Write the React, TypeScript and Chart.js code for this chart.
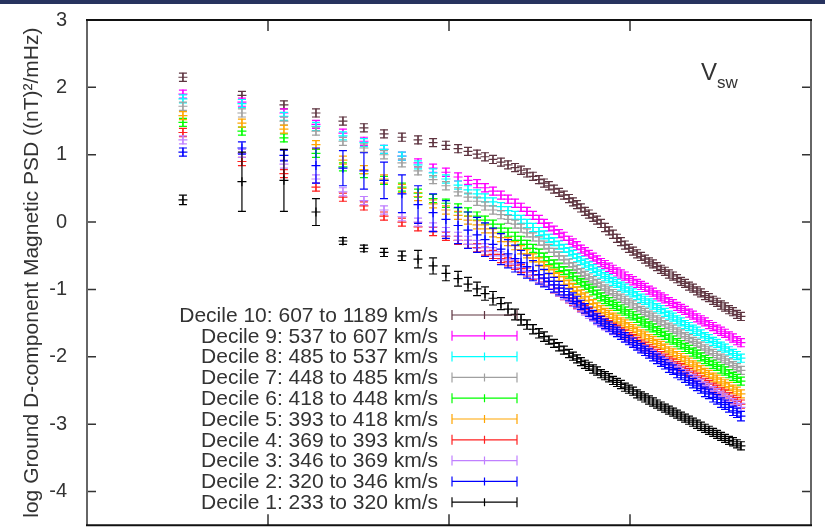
import React, { useEffect, useRef } from 'react';
import { Chart, registerables } from 'chart.js';
Chart.register(...registerables);

// log10 of frequency for every spectral bin
const logFreq = [
  -0.470, -0.144, 0.088, 0.265, 0.414, 0.530, 0.641, 0.740, 0.829, 0.912,
  0.983, 1.050, 1.105, 1.155, 1.199, 1.243, 1.287, 1.326, 1.365, 1.398,
  1.431, 1.464, 1.497, 1.525, 1.552, 1.580, 1.608, 1.635, 1.663, 1.685,
  1.707, 1.729, 1.751, 1.773, 1.796, 1.818, 1.840, 1.862, 1.884, 1.906,
  1.928, 1.950, 1.972, 1.994, 2.017, 2.039, 2.061, 2.083, 2.105, 2.127,
  2.149, 2.171, 2.193, 2.215, 2.238, 2.260, 2.282, 2.304, 2.326, 2.348,
  2.370, 2.392, 2.414, 2.436, 2.459, 2.481, 2.503, 2.525, 2.547, 2.569,
  2.591, 2.613,
];

const decile10 = [
  2.15, 1.88, 1.74, 1.62, 1.50, 1.40, 1.31, 1.26, 1.22, 1.18,
  1.14, 1.09, 1.05, 1.01, 0.97, 0.93, 0.89, 0.85, 0.81, 0.77,
  0.73, 0.68, 0.63, 0.58, 0.54, 0.49, 0.44, 0.40, 0.35, 0.30,
  0.26, 0.21, 0.16, 0.12, 0.07, 0.03, -0.02, -0.08, -0.13, -0.18,
  -0.24, -0.29, -0.34, -0.39, -0.43, -0.47, -0.51, -0.55, -0.59, -0.62,
  -0.66, -0.70, -0.73, -0.77, -0.80, -0.84, -0.88, -0.91, -0.95, -0.98,
  -1.02, -1.05, -1.09, -1.12, -1.16, -1.19, -1.23, -1.26, -1.30, -1.33,
  -1.37, -1.40,
];
const decile9 = [
  1.90, 1.78, 1.62, 1.45, 1.32, 1.20, 1.08, 0.98, 0.88, 0.80,
  0.74, 0.67, 0.62, 0.57, 0.51, 0.46, 0.40, 0.34, 0.28, 0.22,
  0.16, 0.10, 0.04, -0.02, -0.07, -0.12, -0.17, -0.21, -0.27, -0.31,
  -0.35, -0.40, -0.44, -0.48, -0.52, -0.56, -0.60, -0.63, -0.67, -0.70,
  -0.74, -0.77, -0.80, -0.84, -0.87, -0.91, -0.94, -0.97, -1.01, -1.04,
  -1.08, -1.11, -1.14, -1.18, -1.21, -1.25, -1.28, -1.31, -1.35, -1.38,
  -1.42, -1.45, -1.48, -1.52, -1.55, -1.59, -1.62, -1.65, -1.69, -1.72,
  -1.76, -1.79,
];
const decile8 = [
  1.83, 1.76, 1.57, 1.42, 1.28, 1.18, 1.08, 0.98, 0.85, 0.73,
  0.64, 0.55, 0.48, 0.42, 0.36, 0.30, 0.23, 0.17, 0.10, 0.04,
  -0.02, -0.08, -0.14, -0.19, -0.24, -0.29, -0.34, -0.39, -0.44, -0.48,
  -0.53, -0.57, -0.61, -0.65, -0.69, -0.73, -0.77, -0.81, -0.84, -0.88,
  -0.91, -0.95, -0.98, -1.02, -1.05, -1.09, -1.13, -1.16, -1.20, -1.23,
  -1.27, -1.30, -1.34, -1.38, -1.41, -1.45, -1.48, -1.52, -1.55, -1.59,
  -1.62, -1.66, -1.70, -1.73, -1.77, -1.80, -1.84, -1.87, -1.91, -1.95,
  -1.98, -2.02,
];
const decile7 = [
  1.72, 1.62, 1.50, 1.35, 1.20, 1.10, 1.00, 0.88, 0.76, 0.63,
  0.54, 0.45, 0.37, 0.31, 0.24, 0.18, 0.11, 0.04, -0.03, -0.09,
  -0.16, -0.22, -0.28, -0.34, -0.39, -0.45, -0.50, -0.56, -0.61, -0.66,
  -0.70, -0.75, -0.79, -0.83, -0.87, -0.91, -0.95, -0.99, -1.02, -1.06,
  -1.09, -1.13, -1.16, -1.20, -1.23, -1.27, -1.31, -1.34, -1.38, -1.41,
  -1.45, -1.48, -1.52, -1.56, -1.59, -1.63, -1.66, -1.70, -1.73, -1.77,
  -1.80, -1.84, -1.88, -1.91, -1.95, -1.98, -2.02, -2.05, -2.09, -2.13,
  -2.16, -2.20,
];
const decile6 = [
  1.48, 1.35, 1.25, 1.02, 0.82, 0.72, 0.62, 0.52, 0.43, 0.35,
  0.28, 0.21, 0.15, 0.09, 0.03, -0.03, -0.09, -0.15, -0.21, -0.27,
  -0.33, -0.39, -0.46, -0.52, -0.57, -0.62, -0.67, -0.72, -0.77, -0.81,
  -0.86, -0.90, -0.94, -0.98, -1.02, -1.07, -1.11, -1.15, -1.18, -1.22,
  -1.25, -1.29, -1.32, -1.36, -1.39, -1.43, -1.47, -1.50, -1.54, -1.57,
  -1.61, -1.64, -1.68, -1.72, -1.75, -1.79, -1.82, -1.86, -1.89, -1.93,
  -1.96, -2.00, -2.04, -2.07, -2.11, -2.14, -2.18, -2.21, -2.25, -2.29,
  -2.32, -2.36,
];
const decile5 = [
  1.58, 1.47, 1.38, 1.15, 0.92, 0.78, 0.64, 0.50, 0.38, 0.27,
  0.18, 0.10, 0.03, -0.04, -0.10, -0.16, -0.23, -0.29, -0.35, -0.41,
  -0.47, -0.53, -0.59, -0.65, -0.71, -0.76, -0.81, -0.87, -0.92, -0.97,
  -1.02, -1.07, -1.11, -1.16, -1.21, -1.26, -1.30, -1.34, -1.37, -1.41,
  -1.44, -1.48, -1.51, -1.55, -1.58, -1.62, -1.66, -1.69, -1.73, -1.76,
  -1.80, -1.83, -1.87, -1.91, -1.94, -1.98, -2.01, -2.05, -2.08, -2.12,
  -2.15, -2.19, -2.23, -2.26, -2.30, -2.33, -2.37, -2.40, -2.44, -2.48,
  -2.51, -2.55,
];
const decile4 = [
  1.33, 0.90, 0.72, 0.52, 0.37, 0.24, 0.09, 0.00, -0.07, -0.14,
  -0.21, -0.27, -0.33, -0.38, -0.43, -0.48, -0.54, -0.59, -0.64, -0.69,
  -0.74, -0.79, -0.84, -0.89, -0.94, -0.99, -1.04, -1.09, -1.14, -1.18,
  -1.22, -1.26, -1.30, -1.34, -1.38, -1.41, -1.45, -1.49, -1.52, -1.56,
  -1.59, -1.63, -1.66, -1.70, -1.73, -1.77, -1.81, -1.84, -1.88, -1.91,
  -1.95, -1.98, -2.02, -2.06, -2.09, -2.13, -2.16, -2.20, -2.23, -2.27,
  -2.30, -2.34, -2.38, -2.41, -2.45, -2.48, -2.52, -2.55, -2.59, -2.63,
  -2.66, -2.70,
];
const decile3 = [
  1.22, 1.02, 0.86, 0.64, 0.45, 0.32, 0.18, 0.08, 0.00, -0.07,
  -0.14, -0.21, -0.27, -0.33, -0.38, -0.44, -0.50, -0.56, -0.62, -0.67,
  -0.73, -0.78, -0.84, -0.89, -0.94, -0.99, -1.04, -1.09, -1.14, -1.19,
  -1.23, -1.28, -1.32, -1.37, -1.41, -1.46, -1.50, -1.54, -1.57, -1.61,
  -1.64, -1.68, -1.71, -1.75, -1.78, -1.82, -1.86, -1.89, -1.93, -1.96,
  -2.00, -2.03, -2.07, -2.11, -2.14, -2.18, -2.21, -2.25, -2.28, -2.32,
  -2.35, -2.39, -2.43, -2.46, -2.50, -2.53, -2.57, -2.60, -2.64, -2.68,
  -2.71, -2.75,
];
const decile2 = [
  1.04, 1.10, 0.99, 0.84, 0.80, 0.76, 0.62, 0.42, 0.26, 0.14,
  0.04, -0.05, -0.12, -0.19, -0.26, -0.33, -0.40, -0.47, -0.54, -0.60,
  -0.66, -0.72, -0.78, -0.83, -0.88, -0.93, -0.98, -1.03, -1.08, -1.13,
  -1.18, -1.23, -1.28, -1.33, -1.38, -1.43, -1.47, -1.51, -1.55, -1.59,
  -1.63, -1.67, -1.71, -1.75, -1.79, -1.83, -1.87, -1.91, -1.95, -1.99,
  -2.03, -2.07, -2.11, -2.16, -2.19, -2.24, -2.27, -2.31, -2.35, -2.39,
  -2.43, -2.47, -2.52, -2.55, -2.60, -2.63, -2.68, -2.71, -2.75, -2.80,
  -2.83, -2.88,
];
const decile1 = [
  0.33, 0.60, 0.62, 0.15, -0.28, -0.39, -0.45, -0.50, -0.55, -0.65,
  -0.76, -0.84, -0.92, -0.99, -1.06, -1.13, -1.21, -1.29, -1.37, -1.45,
  -1.52, -1.59, -1.65, -1.70, -1.75, -1.80, -1.85, -1.90, -1.95, -1.99,
  -2.03, -2.07, -2.11, -2.14, -2.18, -2.21, -2.25, -2.28, -2.31, -2.35,
  -2.38, -2.41, -2.45, -2.48, -2.51, -2.55, -2.58, -2.61, -2.64, -2.67,
  -2.70, -2.73, -2.76, -2.79, -2.82, -2.85, -2.88, -2.91, -2.94, -2.97,
  -3.00, -3.03, -3.06, -3.09, -3.12, -3.15, -3.18, -3.21, -3.24, -3.26,
  -3.29, -3.32,
];

// error bar half-lengths
const errDecile2 = [
  0.06, 0.09, 0.08, 0.26, 0.26, 0.27, 0.27, 0.28, 0.28, 0.28,
  0.28, 0.27, 0.27, 0.26, 0.25, 0.24, 0.23, 0.21, 0.20, 0.18,
  0.17, 0.15, 0.14, 0.13, 0.12, 0.11, 0.10, 0.09, 0.09, 0.08,
  0.08, 0.07, 0.07, 0.07, 0.07, 0.07, 0.07, 0.07, 0.07, 0.07,
  0.07, 0.07, 0.07, 0.07, 0.07, 0.07, 0.07, 0.07, 0.07, 0.07,
  0.07, 0.07, 0.07, 0.07, 0.07, 0.07, 0.07, 0.07, 0.07, 0.07,
  0.07, 0.07, 0.07, 0.07, 0.07, 0.07, 0.07, 0.07, 0.07, 0.07,
  0.07, 0.07,
];
const errDecile1 = [
  0.07, 0.44, 0.46, 0.20, 0.05, 0.05, 0.06, 0.07, 0.13, 0.12,
  0.11, 0.11, 0.10, 0.10, 0.10, 0.10, 0.09, 0.09, 0.08, 0.08,
  0.07, 0.07, 0.07, 0.07, 0.06, 0.06, 0.06, 0.06, 0.06, 0.06,
  0.06, 0.06, 0.06, 0.06, 0.06, 0.06, 0.06, 0.06, 0.06, 0.06,
  0.06, 0.06, 0.06, 0.06, 0.06, 0.06, 0.06, 0.06, 0.06, 0.06,
  0.06, 0.06, 0.06, 0.06, 0.06, 0.06, 0.06, 0.06, 0.06, 0.06,
  0.06, 0.06, 0.06, 0.06, 0.06, 0.06, 0.06, 0.06, 0.06, 0.06,
  0.06, 0.06,
];
const errTypical = 0.06;

const seriesLabels = [
  'Decile 10: 607 to 1189 km/s',
  'Decile 9: 537 to 607 km/s',
  'Decile 8: 485 to 537 km/s',
  'Decile 7: 448 to 485 km/s',
  'Decile 6: 418 to 448 km/s',
  'Decile 5: 393 to 418 km/s',
  'Decile 4: 369 to 393 km/s',
  'Decile 3: 346 to 369 km/s',
  'Decile 2: 320 to 346 km/s',
  'Decile 1: 233 to 320 km/s',
];
const seriesValues = [decile10, decile9, decile8, decile7, decile6, decile5, decile4, decile3, decile2, decile1];
const seriesErrors: (number[] | number)[] = [
  errTypical, errTypical, errTypical, errTypical, errTypical,
  errTypical, errTypical, errTypical, errDecile2, errDecile1,
];
const seriesColors = [
  '#5e3440', '#ff00ff', '#00ffff', '#a0a0a0', '#00ff00',
  '#ffa500', '#ff2020', '#c080ff', '#0000ff', '#000000',
];

const yTicks = [3, 2, 1, 0, -1, -2, -3, -4];
const xTicks = [0, 1, 2];
const yTitle = 'log Ground D-component Magnetic PSD ((nT)\u00b2/mHz)';
const panelLabel = 'V';
const panelSub = 'sw';

const FONT = '"Liberation Sans", Arial, Helvetica, sans-serif';
const TEXT = '#333333';

const errorBarPlugin = {
  id: 'errorBars',
  beforeDatasetDraw(chart: any, args: any) {
    const ds = chart.data.datasets[args.index];
    const meta = args.meta;
    const ys = chart.scales.y;
    const ctx = chart.ctx;
    const area = chart.chartArea;
    ctx.save();
    ctx.beginPath();
    ctx.rect(area.left, area.top, area.right - area.left, area.bottom - area.top);
    ctx.clip();
    ctx.strokeStyle = ds.borderColor;
    ctx.lineWidth = 1.2;
    ctx.beginPath();
    meta.data.forEach((pt: any, i: number) => {
      const v = ds.data[i].y;
      const e = Array.isArray(ds.err) ? ds.err[i] : ds.err;
      const y1 = ys.getPixelForValue(v + e);
      const y2 = ys.getPixelForValue(v - e);
      const x = pt.x;
      ctx.moveTo(x, y1);
      ctx.lineTo(x, y2);
      ctx.moveTo(x - 4, y1);
      ctx.lineTo(x + 4, y1);
      ctx.moveTo(x - 4, y2);
      ctx.lineTo(x + 4, y2);
    });
    ctx.stroke();
    ctx.restore();
  },
};

const framePlugin = {
  id: 'frame',
  beforeDraw(chart: any) {
    const ctx = chart.ctx;
    ctx.save();
    ctx.fillStyle = '#ffffff';
    ctx.fillRect(0, 0, chart.width, chart.height);
    ctx.fillStyle = '#27335f';
    ctx.fillRect(0, 0, chart.width, 4);
    ctx.restore();
  },
  afterDraw(chart: any) {
    const ctx = chart.ctx;
    const a = chart.chartArea;
    const xs = chart.scales.x;
    const ys = chart.scales.y;
    ctx.save();
    // inward ticks
    ctx.strokeStyle = TEXT;
    ctx.lineWidth = 1.5;
    ctx.beginPath();
    yTicks.forEach((v) => {
      const y = ys.getPixelForValue(v);
      ctx.moveTo(a.left, y);
      ctx.lineTo(a.left + 9, y);
      ctx.moveTo(a.right, y);
      ctx.lineTo(a.right - 9, y);
    });
    xTicks.forEach((v) => {
      const x = xs.getPixelForValue(v);
      ctx.moveTo(x, a.bottom);
      ctx.lineTo(x, a.bottom - 11);
      ctx.moveTo(x, a.top);
      ctx.lineTo(x, a.top + 11);
    });
    ctx.stroke();
    // border
    ctx.lineWidth = 2;
    ctx.strokeStyle = '#666666';
    ctx.beginPath();
    ctx.moveTo(a.left, a.top);
    ctx.lineTo(a.left, a.bottom);
    ctx.moveTo(a.right, a.top);
    ctx.lineTo(a.right, a.bottom);
    ctx.stroke();
    ctx.strokeStyle = '#111111';
    ctx.beginPath();
    ctx.moveTo(a.left - 1, a.top);
    ctx.lineTo(a.right + 1, a.top);
    ctx.moveTo(a.left - 1, a.bottom);
    ctx.lineTo(a.right + 1, a.bottom);
    ctx.stroke();

    // key
    ctx.font = `21px ${FONT}`;
    ctx.textAlign = 'right';
    ctx.textBaseline = 'middle';
    seriesLabels.forEach((lab, i) => {
      const y = 315 + i * 20.8;
      ctx.fillStyle = TEXT;
      ctx.fillText(lab, 438, y + 1);
      const c = seriesColors[i];
      ctx.strokeStyle = c;
      ctx.lineWidth = 1.2;
      ctx.beginPath();
      ctx.moveTo(452, y);
      ctx.lineTo(517, y);
      ctx.moveTo(452, y - 5);
      ctx.lineTo(452, y + 5);
      ctx.moveTo(517, y - 5);
      ctx.lineTo(517, y + 5);
      ctx.moveTo(484.5, y - 4);
      ctx.lineTo(484.5, y + 4);
      ctx.stroke();
    });

    // panel label
    ctx.fillStyle = TEXT;
    ctx.textAlign = 'left';
    ctx.textBaseline = 'alphabetic';
    ctx.font = `24px ${FONT}`;
    ctx.fillText(panelLabel, 701, 80);
    ctx.font = `17px ${FONT}`;
    ctx.fillText(panelSub, 717, 88);
    ctx.restore();
  },
};

export default function App() {
  const ref = useRef<HTMLCanvasElement | null>(null);
  useEffect(() => {
    document.body.style.margin = '0';
    const canvas = ref.current;
    if (!canvas) return;
    const datasets = seriesValues.map((vals, k) => ({
      label: seriesLabels[k],
      data: logFreq.map((x, i) => ({ x, y: vals[i] })),
      err: seriesErrors[k],
      borderColor: seriesColors[k],
      backgroundColor: seriesColors[k],
      pointStyle: 'cross',
      pointRadius: 4.5,
      pointBorderWidth: 1.2,
      showLine: false,
      order: 10 - k,
    }));
    const chart = new Chart(canvas, {
      type: 'scatter',
      data: { datasets } as any,
      options: {
        animation: false,
        responsive: false,
        maintainAspectRatio: false,
        events: [],
        layout: { padding: { top: 20, right: 14, bottom: 4, left: 0 } },
        plugins: { legend: { display: false }, tooltip: { enabled: false } },
        scales: {
          x: {
            type: 'linear',
            display: false,
            min: -1,
            max: 3,
          },
          y: {
            type: 'linear',
            min: -4.5,
            max: 3,
            grid: { display: false },
            border: { display: false },
            afterBuildTicks: (s: any) => { s.ticks = yTicks.map((v) => ({ value: v })); },
            afterFit: (s: any) => {
              s.width = 87;
              s.paddingTop = 0;
              s.paddingBottom = 0;
            },
            ticks: {
              color: TEXT,
              padding: 12,
              font: { family: FONT, size: 20 },
              callback: (v: any) => String(v),
            },
            title: {
              display: true,
              text: yTitle,
              color: TEXT,
              font: { family: FONT, size: 21 },
              padding: { top: 20, bottom: 0 },
            },
          },
        },
      } as any,
      plugins: [errorBarPlugin, framePlugin],
    });
    return () => chart.destroy();
  }, []);
  return <canvas ref={ref} width={825} height={531} style={{ display: 'block' }} />;
}
